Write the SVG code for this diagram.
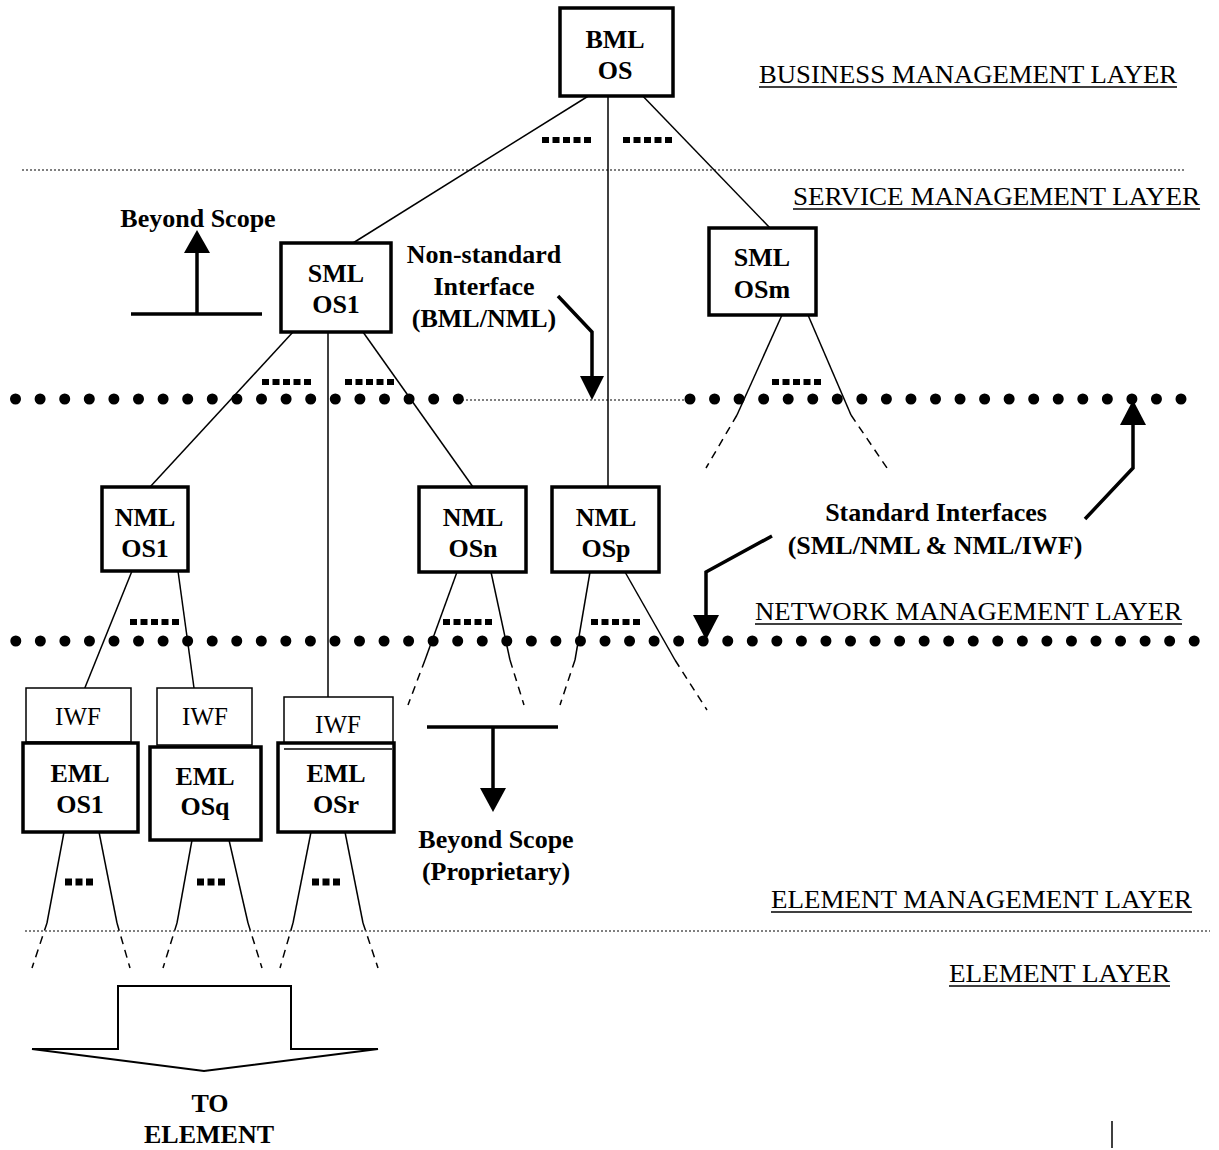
<svg xmlns="http://www.w3.org/2000/svg" width="1219" height="1150" viewBox="0 0 1219 1150">
<defs>
<style>
.b{font-family:"Liberation Serif","Times New Roman",serif;font-weight:bold;font-size:26px;text-anchor:middle;fill:#000}
.r{font-family:"Liberation Serif","Times New Roman",serif;font-size:26px;fill:#000}
.rc{font-family:"Liberation Serif","Times New Roman",serif;font-size:25px;text-anchor:middle;fill:#000}
.box{fill:#fff;stroke:#000;stroke-width:3.5}
.thin{fill:#fff;stroke:#000;stroke-width:1.5}
.ln{stroke:#000;stroke-width:1.5;fill:none}
.dash{stroke:#000;stroke-width:1.5;fill:none;stroke-dasharray:8 6}
.thk{stroke:#000;stroke-width:3.5;fill:none}
.dots{stroke:#000;stroke-width:11;stroke-linecap:round;fill:none}
.fine{stroke:#000;stroke-width:1;fill:none;stroke-dasharray:2 2}
.sq{stroke:#000;stroke-width:6;fill:none;stroke-dasharray:7 3.5}
.ul{stroke:#000;stroke-width:1.5}
</style>
<marker id="ah" viewBox="0 0 10 10" refX="10" refY="5" markerWidth="7" markerHeight="7" markerUnits="userSpaceOnUse" orient="auto">
<path d="M0,0 L10,5 L0,10 z" fill="#000"/>
</marker>
</defs>
<rect width="1219" height="1150" fill="#fff"/>

<g id="layers">
<line class="fine" x1="22" y1="170" x2="1185" y2="170"/>
<line class="fine" x1="25" y1="931" x2="1210" y2="931"/>
<line class="fine" x1="462" y1="400" x2="688" y2="400"/>
<line class="dots" x1="15.5" y1="399" x2="459" y2="399" style="stroke-dasharray:0 24.6"/>
<line class="dots" x1="690" y1="399" x2="1182" y2="399" style="stroke-dasharray:0 24.55"/>
<line class="dots" x1="15.8" y1="641" x2="1195" y2="641" style="stroke-dasharray:0 24.55"/>
<text class="r" x="759" y="83" textLength="418" lengthAdjust="spacingAndGlyphs">BUSINESS MANAGEMENT LAYER</text>
<line class="ul" x1="759" y1="87" x2="1177" y2="87"/>
<text class="r" x="793" y="205" textLength="407" lengthAdjust="spacingAndGlyphs">SERVICE MANAGEMENT LAYER</text>
<line class="ul" x1="793" y1="209" x2="1200" y2="209"/>
<text class="r" x="755" y="620" textLength="427" lengthAdjust="spacingAndGlyphs">NETWORK MANAGEMENT LAYER</text>
<line class="ul" x1="755" y1="624" x2="1182" y2="624"/>
<text class="r" x="771" y="908" textLength="421" lengthAdjust="spacingAndGlyphs">ELEMENT MANAGEMENT LAYER</text>
<line class="ul" x1="771" y1="912" x2="1192" y2="912"/>
<text class="r" x="949" y="982" textLength="221" lengthAdjust="spacingAndGlyphs">ELEMENT LAYER</text>
<line class="ul" x1="949" y1="986" x2="1170" y2="986"/>
</g>

<g id="connectors">
<line class="ln" x1="598" y1="90" x2="353" y2="243"/>
<line class="ln" x1="608" y1="90" x2="608" y2="487"/>
<line class="ln" x1="637" y1="90" x2="770" y2="228"/>
<line class="sq" x1="542" y1="140" x2="591" y2="140"/>
<line class="sq" x1="623" y1="140" x2="673" y2="140"/>

<line class="ln" x1="293" y1="332" x2="150" y2="487"/>
<line class="ln" x1="328" y1="332" x2="328" y2="697"/>
<line class="ln" x1="363" y1="332" x2="473" y2="487"/>
<line class="sq" x1="262" y1="382" x2="311" y2="382"/>
<line class="sq" x1="345" y1="382" x2="394" y2="382"/>

<line class="ln" x1="782" y1="315" x2="737" y2="415"/>
<line class="dash" x1="737" y1="415" x2="706" y2="468"/>
<line class="ln" x1="808" y1="315" x2="851" y2="415"/>
<line class="dash" x1="851" y1="415" x2="887" y2="468"/>
<line class="sq" x1="772" y1="382" x2="822" y2="382"/>

<line class="ln" x1="132" y1="571" x2="84" y2="690"/>
<line class="ln" x1="178" y1="571" x2="194" y2="688"/>
<line class="sq" x1="130" y1="622" x2="182" y2="622"/>

<line class="ln" x1="457" y1="572" x2="425" y2="660"/>
<line class="dash" x1="425" y1="660" x2="408" y2="705"/>
<line class="ln" x1="491" y1="572" x2="510" y2="660"/>
<line class="dash" x1="510" y1="660" x2="524" y2="705"/>
<line class="sq" x1="443" y1="622" x2="493" y2="622"/>

<line class="ln" x1="590" y1="572" x2="575" y2="660"/>
<line class="dash" x1="575" y1="660" x2="560" y2="705"/>
<line class="ln" x1="625" y1="572" x2="675" y2="660"/>
<line class="dash" x1="675" y1="660" x2="707" y2="710"/>
<line class="sq" x1="591" y1="622" x2="641" y2="622"/>

<line class="ln" x1="64" y1="832" x2="47" y2="923"/>
<line class="dash" x1="47" y1="923" x2="32" y2="968"/>
<line class="ln" x1="99" y1="832" x2="117" y2="923"/>
<line class="dash" x1="117" y1="923" x2="130" y2="968"/>
<line class="ln" x1="192" y1="840" x2="177" y2="923"/>
<line class="dash" x1="177" y1="923" x2="163" y2="968"/>
<line class="ln" x1="229" y1="840" x2="248" y2="923"/>
<line class="dash" x1="248" y1="923" x2="262" y2="968"/>
<line class="ln" x1="311" y1="832" x2="293" y2="923"/>
<line class="dash" x1="293" y1="923" x2="280" y2="968"/>
<line class="ln" x1="345" y1="832" x2="363" y2="923"/>
<line class="dash" x1="363" y1="923" x2="378" y2="968"/>
<line class="sq" x1="65" y1="882" x2="93" y2="882" style="stroke-width:7"/>
<line class="sq" x1="197" y1="882" x2="225" y2="882" style="stroke-width:7"/>
<line class="sq" x1="312" y1="882" x2="340" y2="882" style="stroke-width:7"/>
</g>

<g id="annotations">
<line class="thk" x1="131" y1="314" x2="262" y2="314"/>
<line class="thk" x1="197" y1="314" x2="197" y2="252"/>
<path d="M184,253 L210,253 L197,230 z" fill="#000"/>
<text class="b" x="198" y="227">Beyond Scope</text>

<text class="b" x="484" y="263">Non-standard</text>
<text class="b" x="484" y="295">Interface</text>
<text class="b" x="484" y="327">(BML/NML)</text>
<polyline class="thk" points="558,296 592,332 592,377"/>
<path d="M580,376 L604,376 L592,400 z" fill="#000"/>

<text class="b" x="936" y="521">Standard Interfaces</text>
<text class="b" x="935" y="554">(SML/NML &amp; NML/IWF)</text>
<polyline class="thk" points="1085,519 1133,468 1133,424"/>
<path d="M1120,425 L1146,425 L1133,400 z" fill="#000"/>
<polyline class="thk" points="772,536 706,572 706,616"/>
<path d="M693,615 L719,615 L706,640 z" fill="#000"/>

<line class="thk" x1="427" y1="727" x2="558" y2="727"/>
<line class="thk" x1="493" y1="727" x2="493" y2="790"/>
<path d="M480,788 L506,788 L493,812 z" fill="#000"/>
<text class="b" x="496" y="848">Beyond Scope</text>
<text class="b" x="496" y="880">(Proprietary)</text>

<path d="M118,1049 L118,986 L291,986 L291,1049 L378,1049 L204,1071 L32,1049 z" fill="none" stroke="#000" stroke-width="2"/>
<text class="b" x="210" y="1112">TO</text>
<text class="b" x="209" y="1143">ELEMENT</text>

<line x1="1112" y1="1121" x2="1112" y2="1148" stroke="#000" stroke-width="1.5"/>
</g>

<g id="bml-os">
<rect class="box" x="560" y="8" width="113" height="88"/>
<text class="b" x="615" y="48">BML</text>
<text class="b" x="615" y="79">OS</text>
</g>
<g id="sml-os1">
<rect class="box" x="281" y="243" width="110" height="89"/>
<text class="b" x="336" y="282">SML</text>
<text class="b" x="336" y="313">OS1</text>
</g>
<g id="sml-osm">
<rect class="box" x="709" y="228" width="107" height="87"/>
<text class="b" x="762" y="266">SML</text>
<text class="b" x="762" y="298">OSm</text>
</g>
<g id="nml-os1">
<rect class="box" x="102" y="487" width="86" height="84"/>
<text class="b" x="145" y="526">NML</text>
<text class="b" x="145" y="557">OS1</text>
</g>
<g id="nml-osn">
<rect class="box" x="419" y="487" width="107" height="85"/>
<text class="b" x="473" y="526">NML</text>
<text class="b" x="473" y="557">OSn</text>
</g>
<g id="nml-osp">
<rect class="box" x="552" y="487" width="107" height="85"/>
<text class="b" x="606" y="526">NML</text>
<text class="b" x="606" y="557">OSp</text>
</g>
<g id="iwf1">
<rect class="thin" x="26" y="688" width="105" height="54"/>
<text class="rc" x="78" y="725">IWF</text>
</g>
<g id="iwf2">
<rect class="thin" x="157" y="688" width="95" height="57"/>
<text class="rc" x="205" y="725">IWF</text>
</g>
<g id="iwf3">
<rect class="thin" x="284" y="697" width="109" height="50"/>
<text class="rc" x="338" y="733">IWF</text>
</g>
<g id="eml-os1">
<rect class="box" x="23" y="743" width="115" height="89"/>
<text class="b" x="80" y="782">EML</text>
<text class="b" x="80" y="813">OS1</text>
</g>
<g id="eml-osq">
<rect class="box" x="150" y="747" width="111" height="93"/>
<text class="b" x="205" y="785">EML</text>
<text class="b" x="205" y="815">OSq</text>
</g>
<g id="eml-osr">
<rect class="box" x="278" y="743" width="116" height="89"/>
<line x1="284" y1="749" x2="392" y2="749" stroke="#000" stroke-width="1.5"/>
<text class="b" x="336" y="782">EML</text>
<text class="b" x="336" y="813">OSr</text>
</g>
</svg>
